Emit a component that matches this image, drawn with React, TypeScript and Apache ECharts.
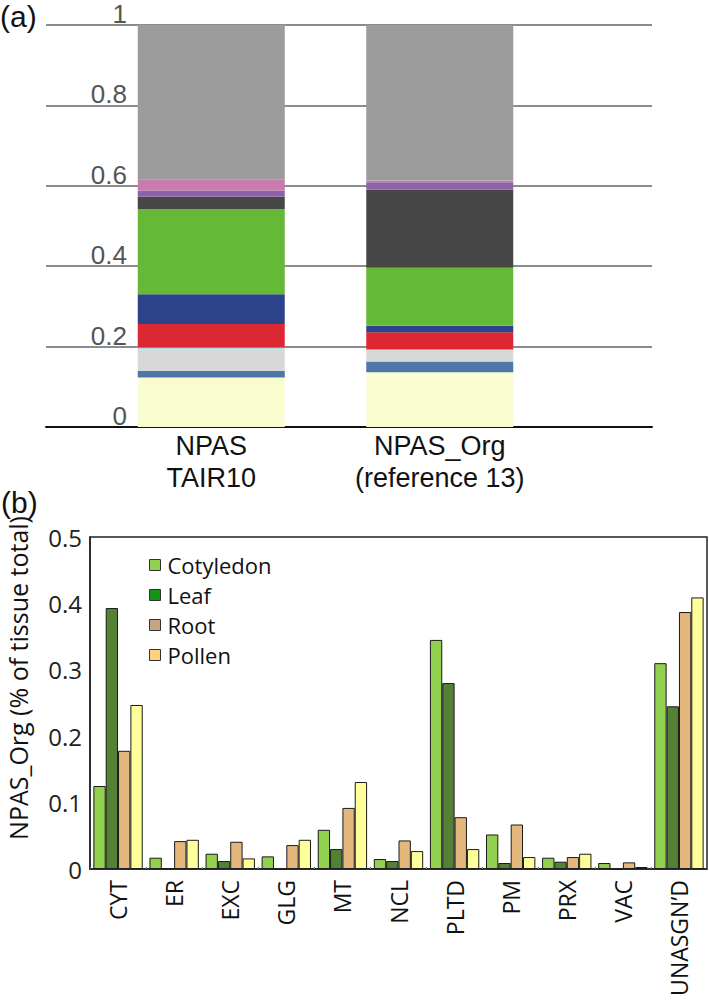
import React, { useEffect, useRef } from "react";
import * as echarts from "echarts";

// ---- (a) stacked composition ----
const topCategories = ["NPAS\nTAIR10", "NPAS_Org\n(reference 13)"];
const topTicks = [0, 0.2, 0.4, 0.6, 0.8, 1];
const segYellow = [0.123, 0.136];
const segSteel = [0.016, 0.027];
const segLightGray = [0.054, 0.03];
const segCyan = [0.005, 0];
const segRed = [0.058, 0.043];
const segNavy = [0.074, 0.016];
const segGreen = [0.212, 0.144];
const segDarkGray = [0.031, 0.194];
const segPurple = [0.015, 0.019];
const segPink = [0.028, 0.004];
const segGray = [0.384, 0.387];

// ---- (b) grouped bars ----
const compartments = ["CYT", "ER", "EXC", "GLG", "MT", "NCL", "PLTD", "PM", "PRX", "VAC", "UNASGN\u2019D"];
const cotyledon = [0.125, 0.017, 0.023, 0.019, 0.059, 0.015, 0.345, 0.052, 0.017, 0.009, 0.31];
const leaf = [0.393, 0.001, 0.012, 0, 0.03, 0.012, 0.28, 0.009, 0.011, 0, 0.245];
const root = [0.178, 0.042, 0.041, 0.036, 0.092, 0.043, 0.078, 0.067, 0.018, 0.01, 0.387];
const pollen = [0.247, 0.044, 0.016, 0.044, 0.131, 0.027, 0.03, 0.018, 0.023, 0.003, 0.409];

const ARIAL = "'Liberation Sans', Arial, sans-serif";
const SANS = "'Open Sans', 'Noto Sans', sans-serif";

export default function App() {
  const ref = useRef<HTMLDivElement>(null);

  useEffect(() => {
    if (!ref.current) return;
    const chart = echarts.init(ref.current, undefined, { renderer: "svg" });

    const topSegs = [
      { name: "s1", data: segYellow, color: "#F9FCCF" },
      { name: "s2", data: segSteel, color: "#4E76A6" },
      { name: "s3", data: segLightGray, color: "#D8D8D8" },
      { name: "s4", data: segCyan, color: "#A9DCE4" },
      { name: "s5", data: segRed, color: "#DC2832" },
      { name: "s6", data: segNavy, color: "#2C428A" },
      { name: "s7", data: segGreen, color: "#66B936" },
      { name: "s8", data: segDarkGray, color: "#474747" },
      { name: "s9", data: segPurple, color: "#8D62A6" },
      { name: "s10", data: segPink, color: "#C77BAE" },
      { name: "s11", data: segGray, color: "#9C9C9C" },
    ];

    const bottom = [
      { name: "Cotyledon", data: cotyledon, color: "#92D050", legend: "#92D050" },
      { name: "Leaf", data: leaf, color: "#548235", legend: "#139413" },
      { name: "Root", data: root, color: "#E4B77C", legend: "#C4A586" },
      { name: "Pollen", data: pollen, color: "#FFFF99", legend: "#FFD27F" },
    ];

    chart.setOption({
      animation: false,
      grid: [
        { left: 46, width: 606, top: 25, height: 402 },
        { left: 97, width: 457, top: 25, height: 402 },
        { left: 90, width: 617, top: 537, height: 332, show: true, borderColor: "#222", borderWidth: 1.5 },
      ],
      xAxis: [
        {
          gridIndex: 0,
          type: "category",
          data: ["a", "b"],
          axisLine: { show: true, lineStyle: { color: "#111", width: 2 } },
          axisTick: { show: false },
          axisLabel: { show: false },
        },
        {
          gridIndex: 1,
          type: "category",
          data: topCategories,
          axisLine: { show: false },
          axisTick: { show: false },
          axisLabel: { fontFamily: ARIAL, fontSize: 27, color: "#111", lineHeight: 32, margin: 3 },
        },
        {
          gridIndex: 2,
          type: "category",
          data: compartments,
          axisLine: { show: true, lineStyle: { color: "#222", width: 1.5 } },
          axisTick: { show: true, inside: true, length: 2, lineStyle: { color: "#666" } },
          axisLabel: { rotate: 90, fontFamily: SANS, fontSize: 23, color: "#111", margin: 11 },
        },
      ],
      yAxis: [
        {
          gridIndex: 0,
          type: "value",
          min: 0,
          max: 1,
          interval: 0.2,
          axisLine: { show: false },
          axisTick: { show: false },
          splitLine: { show: true, lineStyle: { color: "#666", width: 1.5 } },
          axisLabel: {
            fontFamily: ARIAL,
            fontSize: 26,
            lineHeight: 22,
            color: "#555",
            margin: -81,
            align: "right",
            verticalAlign: "bottom",
            formatter: (v: number) => (topTicks.includes(Math.round(v * 10) / 10) ? String(Math.round(v * 10) / 10) : ""),
          },
        },
        {
          gridIndex: 1,
          type: "value",
          min: 0,
          max: 1,
          show: false,
        },
        {
          gridIndex: 2,
          type: "value",
          min: 0,
          max: 0.5,
          interval: 0.1,
          axisLine: { show: true, lineStyle: { color: "#222", width: 1.5 } },
          axisTick: { show: false },
          splitLine: { show: false },
          axisLabel: { fontFamily: SANS, fontSize: 24, color: "#222", margin: 8 },
        },
      ],
      legend: {
        orient: "vertical",
        left: 144,
        top: 549,
        itemWidth: 11,
        itemHeight: 11,
        itemGap: 8,
        icon: "rect",
        textStyle: { fontFamily: SANS, fontSize: 22, color: "#111", padding: [0, 0, 0, 2] },
        data: bottom.map((b) => ({
          name: b.name,
          itemStyle: { color: b.legend, borderColor: "#333", borderWidth: 1 },
        })),
      },
      graphic: [
        {
          type: "text",
          left: 0,
          top: 1,
          style: { text: "(a)", fontSize: 30, fontFamily: ARIAL, fill: "#111" },
        },
        {
          type: "text",
          left: 1,
          top: 487,
          style: { text: "(b)", fontSize: 30, fontFamily: ARIAL, fill: "#111" },
        },
        {
          type: "text",
          x: 18,
          y: 678,
          rotation: Math.PI / 2,
          style: {
            text: "NPAS_Org (% of tissue total)",
            fontSize: 25,
            fontFamily: SANS,
            fill: "#111",
            align: "center",
            verticalAlign: "middle",
          },
        },
      ],
      series: [
        ...topSegs.map((s) => ({
          type: "bar",
          name: s.name,
          xAxisIndex: 1,
          yAxisIndex: 1,
          stack: "top",
          barWidth: 147,
          data: s.data,
          itemStyle: { color: s.color },
        })),
        ...bottom.map((b) => ({
          type: "bar",
          name: b.name,
          xAxisIndex: 2,
          yAxisIndex: 2,
          barGap: "0%",
          barCategoryGap: "12%",
          data: b.data,
          itemStyle: { color: b.color, borderColor: "#1a1a1a", borderWidth: 1 },
        })),
      ],
    });

    return () => chart.dispose();
  }, []);

  return (
    <div
      ref={ref}
      style={{ position: "fixed", left: 0, top: 0, width: 709, height: 1000, background: "#fff" }}
    />
  );
}
